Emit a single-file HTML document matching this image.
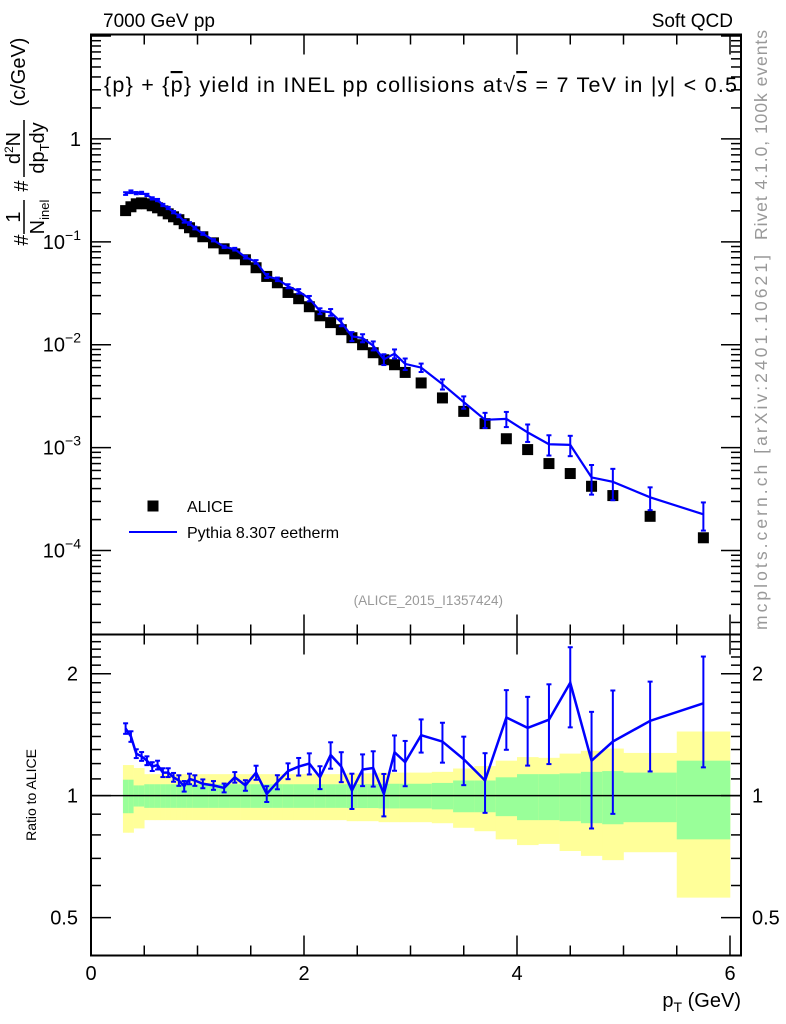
<!DOCTYPE html>
<html><head><meta charset="utf-8"><style>
html,body{margin:0;padding:0;background:#fff;}
svg{display:block;font-family:"Liberation Sans",sans-serif;}
</style></head><body>
<svg id="chart" width="786" height="1024" viewBox="0 0 786 1024" xmlns="http://www.w3.org/2000/svg">
<rect x="0" y="0" width="786" height="1024" fill="#fff"/>
<g id="bands"></g>
<g id="ticks"></g>
<g id="marks"></g>
<rect x="91" y="34.5" width="650" height="600" fill="none" stroke="#000" stroke-width="2"/>
<rect x="91" y="634.5" width="650" height="321" fill="none" stroke="#000" stroke-width="2"/>
<text x="103" y="27" font-size="19">7000 GeV pp</text>
<text x="733" y="27" font-size="19" text-anchor="end">Soft QCD</text>
<text x="104" y="92" font-size="21.5" textLength="633" lengthAdjust="spacing">{p} + {<tspan text-decoration="overline">p</tspan>} yield in INEL pp collisions at√<tspan text-decoration="overline">s</tspan> =  7 TeV in |y| &lt; 0.5</text>
<rect x="147.5" y="500.5" width="11" height="11" fill="#000"/>
<text x="187" y="512" font-size="16">ALICE</text>
<line x1="129" y1="532" x2="177" y2="532" stroke="#0000ff" stroke-width="2"/>
<text x="187" y="538" font-size="16">Pythia 8.307 eetherm</text>
<text x="503" y="605" font-size="13.5" fill="#999" text-anchor="end">(ALICE_2015_I1357424)</text>
<text transform="translate(767,240) rotate(-90)" font-size="17.5" fill="#999" textLength="210" lengthAdjust="spacing">Rivet 4.1.0,  100k events</text>
<text transform="translate(767,630) rotate(-90)" font-size="17.5" fill="#999" textLength="375" lengthAdjust="spacing">mcplots.cern.ch [arXiv:2401.10621]</text>
<g transform="translate(0,150) rotate(-90)" font-size="20">
<text x="-90" y="28" text-anchor="middle">#</text>
<text x="-67" y="20" text-anchor="middle">1</text>
<line x1="-84" y1="24" x2="-50" y2="24" stroke="#000" stroke-width="1.5"/>
<text x="-67" y="44" text-anchor="middle">N<tspan font-size="13" dy="5">inel</tspan></text>
<text x="-36" y="28" text-anchor="middle">#</text>
<text x="2" y="20" text-anchor="middle">d<tspan font-size="12" dy="-7">2</tspan><tspan dy="7">N</tspan></text>
<line x1="-27" y1="24" x2="30" y2="24" stroke="#000" stroke-width="1.5"/>
<text x="2" y="44" text-anchor="middle">dp<tspan font-size="13" dy="5">T</tspan><tspan dy="-5">dy</tspan></text>
<text x="78" y="25" text-anchor="middle">(c/GeV)</text>
</g>
<text transform="translate(36,795) rotate(-90)" font-size="14" text-anchor="middle">Ratio to ALICE</text>
<text x="741" y="1007" font-size="20" text-anchor="end">p<tspan font-size="14" dy="5">T</tspan><tspan dy="-5"> (GeV)</tspan></text>
</svg>
<script>
// ---- data ----
const ptCenters = [0.325,0.375,0.425,0.475,0.525,0.575,0.625,0.675,0.725,0.775,0.825,0.875,0.925,0.975,
 1.05,1.15,1.25,1.35,1.45,1.55,1.65,1.75,1.85,1.95,2.05,2.15,2.25,2.35,2.45,2.55,2.65,2.75,2.85,2.95,
 3.1,3.3,3.5,3.7,3.9,4.1,4.3,4.5,4.7,4.9,5.25,5.75];
const binEdges = [0.3,0.35,0.4,0.45,0.5,0.55,0.6,0.65,0.7,0.75,0.8,0.85,0.9,0.95,1.0,
 1.1,1.2,1.3,1.4,1.5,1.6,1.7,1.8,1.9,2.0,2.1,2.2,2.3,2.4,2.5,2.6,2.7,2.8,2.9,3.0,
 3.2,3.4,3.6,3.8,4.0,4.2,4.4,4.6,4.8,5.0,5.5,6.0];
const aliceValues = [0.201,0.219,0.234,0.239,0.234,0.224,0.214,0.200,0.187,0.175,0.164,0.150,0.137,0.125,
 0.112,0.0977,0.0855,0.0764,0.0669,0.0560,0.0461,0.0400,0.0322,0.0280,0.0234,0.0191,0.0164,0.0140,0.0117,0.0100,0.00836,0.00714,0.00639,0.00538,
 0.00425,0.00304,0.00225,0.00171,0.00122,0.000957,0.000700,0.000560,0.000421,0.000342,0.000215,0.000133];
const pythiaRatio = [1.465,1.40,1.27,1.25,1.22,1.18,1.19,1.14,1.14,1.11,1.09,1.055,1.10,1.09,
 1.07,1.06,1.045,1.11,1.06,1.14,1.01,1.08,1.15,1.18,1.20,1.11,1.26,1.18,1.03,1.16,1.17,1.01,1.28,1.21,
 1.41,1.36,1.23,1.09,1.56,1.47,1.54,1.90,1.22,1.36,1.53,1.69];
const pythiaRelErr = [.03,.03,.025,.025,.025,.025,.025,.025,.025,.025,.03,.03,.03,.03,
 .025,.025,.025,.03,.03,.04,.045,.04,.045,.05,.06,.065,.075,.085,.1,.09,.1,.12,.1,.128,
 .094,.113,.137,.168,.168,.193,.223,.224,.32,.337,.25,.305];
const aliceTotalRelErr = [.19,.19,.17,.17,.13,.13,.13,.13,.13,.13,.13,.13,.13,.13,
 .13,.13,.13,.13,.13,.13,.13,.13,.13,.13,.13,.13,.13,.13,.135,.135,.135,.14,.14,.14,
 .14,.145,.167,.183,.22,.245,.24,.27,.29,.307,.275,.44];
const aliceStatRelErr = [.095,.095,.06,.06,.067,.067,.067,.067,.067,.067,.067,.067,.067,.067,
 .067,.067,.067,.067,.067,.067,.067,.067,.067,.067,.067,.067,.067,.067,.068,.068,.068,.07,.07,.07,
 .07,.075,.09,.09,.11,.13,.13,.135,.145,.15,.14,.22];
const mainTickLabels = ["1","10","10","10","10"];
const mainTickExps = [0,-1,-2,-3,-4];
const ratioTickLabels = ["0.5","1","2"];
const ratioTickValues = [0.5,1,2];
const xTickLabels = ["0","2","4","6"];
const xTickValues = [0,2,4,6];

// ---- axes ----
const X0=91,X1=741, MT=34.5, MB=634.5, RT=634.5, RB=955.5;
const LMAX=1.0146, LMIN=-4.816, RLMAX=Math.log2(2.5), RLMIN=Math.log2(0.403);
const xs = v => 91 + v*106.5;
const ys = v => MT + (LMAX-Math.log10(v))/(LMAX-LMIN)*(MB-MT);
const yr = v => RT + (RLMAX-Math.log2(v))/(RLMAX-RLMIN)*(RB-RT);
const NS="http://www.w3.org/2000/svg";
function mk(tag,attrs,parent){const e=document.createElementNS(NS,tag);for(const k in attrs)e.setAttribute(k,attrs[k]);parent.appendChild(e);return e;}
const gT=document.getElementById('ticks'), gB=document.getElementById('bands'), gM=document.getElementById('marks');

// x ticks
for(let v=0; v<=6.01; v+=0.5){
  const major = Math.abs(v-Math.round(v/2)*2)<1e-6, L = major?20:10, x=xs(v);
  [[MB,-1],[MT,1],[RB,-1],[RT,1]].forEach(([y0,d])=>{
    const t=mk('line',{x1:x,x2:x,y1:y0,y2:y0+d*L,stroke:'#000','stroke-width':1.5},gT);
    
    
  });
}
xTickValues.forEach((v,i)=>{
  const t=mk('text',{x:xs(v),y:980,'font-size':20,'text-anchor':'middle'},gT);
  t.textContent=xTickLabels[i];
  
  
});
// main y ticks
for(let e=-5;e<=1;e++){
  for(let m=1;m<10;m++){
    const v=m*Math.pow(10,e), lv=Math.log10(v);
    if(lv<LMIN||lv>LMAX) continue;
    const L=m===1?20:10, y=ys(v);
    [[X0,1],[X1,-1]].forEach(([x0,d])=>{
      const t=mk('line',{x1:x0,x2:x0+d*L,y1:y,y2:y,stroke:'#000','stroke-width':1.5},gT);
      
      
    });
  }
}
mainTickExps.forEach((ex,i)=>{
  const y=ys(Math.pow(10,ex))+7;
  const t=mk('text',{x:81,y:y,'font-size':20,'text-anchor':'end'},gT);
  
  
  t.textContent=mainTickLabels[i];
  if(ex!==0){
    const s=mk('tspan',{'font-size':14,dy:-9},t); s.textContent='\u2212'+(-ex);
  }
});
// ratio y ticks
for(let v=0.4; v<=2.51; v+=0.1){
  const r=Math.round(v*10)/10;
  if(Math.log2(r)<RLMIN||Math.log2(r)>RLMAX) continue;
  const major=(r===0.5||r===1||r===2), L=major?20:10, y=yr(r);
  [[X0,1],[X1,-1]].forEach(([x0,d])=>{
    const t=mk('line',{x1:x0,x2:x0+d*L,y1:y,y2:y,stroke:'#000','stroke-width':1.5},gT);
    
    
  });
}
ratioTickValues.forEach((v,i)=>{
  [[78,'end'],[752,'start']].forEach(([x,a])=>{
    const t=mk('text',{x:x,y:yr(v)+7,'font-size':20,'text-anchor':a},gT);
    t.textContent=ratioTickLabels[i];
    
    
  });
});

// ratio bands
ptCenters.forEach((c,i)=>{
  const xa=xs(binEdges[i]), xb=xs(binEdges[i+1]);
  const yt=yr(1+aliceTotalRelErr[i]), yb=yr(Math.max(0.41,1-aliceTotalRelErr[i]));
  const b1=mk('rect',{x:xa,y:yt,width:xb-xa+0.3,height:yb-yt,fill:'#ffff99'},gB);
  
  
  const gt=yr(1+aliceStatRelErr[i]), gb=yr(1-aliceStatRelErr[i]);
  const b2=mk('rect',{x:xa,y:gt,width:xb-xa+0.3,height:gb-gt,fill:'#99ff99'},gB);
  
  
});
const one=mk('line',{x1:X0,x2:X1,y1:yr(1),y2:yr(1),stroke:'#000','stroke-width':1.5},gB);



// ALICE markers
ptCenters.forEach((c,i)=>{
  const r=mk('rect',{x:xs(c)-5.5,y:ys(aliceValues[i])-5.5,width:11,height:11,fill:'#000'},gM);
  
  
});
// Pythia main + ratio
function errbar(x,yTop,yBot,name){
  const l=mk('line',{x1:x,x2:x,y1:yTop,y2:yBot,stroke:'#0000ff','stroke-width':2},gM);
  
  
  [yTop,yBot].forEach(y=>{
    const c=mk('line',{x1:x-2.5,x2:x+2.5,y1:y,y2:y,stroke:'#0000ff','stroke-width':2},gM);
    
    
  });
}
let pMain='', pRatio='';
ptCenters.forEach((c,i)=>{
  const mc=aliceValues[i]*pythiaRatio[i], e=pythiaRelErr[i]*mc, x=xs(c);
  pMain+=(i?'L':'M')+x+','+ys(mc);
  errbar(x,ys(mc+e),ys(mc-e),'pythia-error-bar');
  const r=pythiaRatio[i], er=pythiaRelErr[i]*r;
  pRatio+=(i?'L':'M')+x+','+yr(r);
  errbar(x,yr(r+er),yr(r-er),'pythia-ratio-error-bar');
});
const lm=mk('path',{d:pMain,fill:'none',stroke:'#0000ff','stroke-width':2.2},gM);


const lr=mk('path',{d:pRatio,fill:'none',stroke:'#0000ff','stroke-width':2.5},gM);


</script>
</body></html>
